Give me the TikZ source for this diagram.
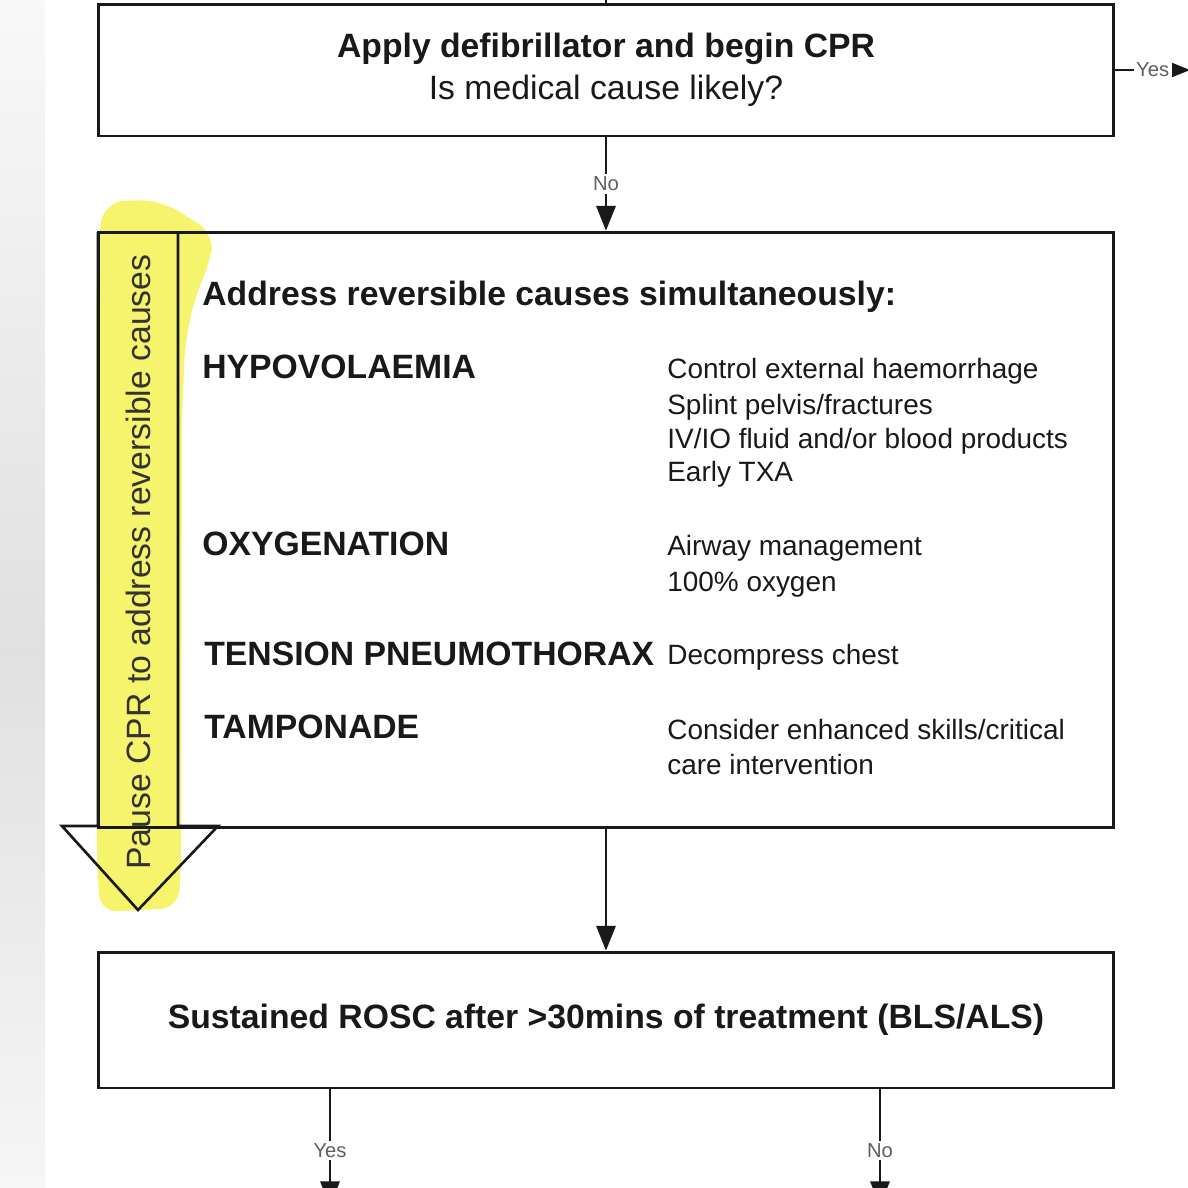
\documentclass[tikz,border=0pt]{standalone}
\usepackage{fontspec}
\setmainfont{Liberation Sans}
\usetikzlibrary{arrows.meta}
\definecolor{hilite}{RGB}{246,243,108}
\definecolor{ink}{RGB}{25,25,25}
\definecolor{lblgray}{RGB}{95,95,95}
\newcommand\fBig{\fontsize{19.2}{23.8}\selectfont}
\newcommand\fMed{\fontsize{15.9}{19}\selectfont}
\newcommand\fLbl{\fontsize{11.5}{13}\selectfont}
\tikzset{
  boxnode/.style={draw=ink, line width=1.7pt, minimum width=20.32cm, inner sep=0pt},
  conn/.style={draw=ink, line width=1.1pt, -{Triangle[length=14pt,width=11pt]}},
  lbl/.style={fill=white, inner sep=1.5pt, text=lblgray, font=\fLbl},
  headtxt/.style={anchor=base west, inner sep=0pt, font=\fBig\bfseries, text=ink},
  acttxt/.style={anchor=base west, inner sep=0pt, font=\fMed, text=ink},
}
\begin{document}
\begin{tikzpicture}[x=0.02cm, y=-0.02cm]
\useasboundingbox (0,0) rectangle (1188,1188);
\clip (0,0) rectangle (1188,1188);
% background strip (photo edge)
\shade[top color=gray!5, bottom color=gray!24] (0,0) rectangle (45,650);
\shade[top color=gray!24, bottom color=gray!7] (0,650) rectangle (45,1188);
% highlighter stroke
\fill[hilite, rounded corners=10pt] (104,204) -- (134,199) -- (166,203) -- (214,234) -- (210,262) -- (194,300) -- (185,345) -- (182,420) -- (181,870) -- (178,908) -- (100,912) -- (97,860) -- (96,300) -- (99,235) -- cycle;
% boxes
\node[boxnode, minimum height=2.64cm, align=center, font=\fBig, text=ink] (b1) at (606,70)
  {\bfseries Apply defibrillator and begin CPR\\ Is medical cause likely?};
\node[boxnode, minimum height=11.92cm] (b2) at (606,530) {};
\node[boxnode, minimum height=2.72cm, font=\fBig\bfseries, text=ink] (b3) at (606,1020)
  {Sustained ROSC after >30mins of treatment (BLS/ALS)};
% pause CPR arrow
\draw[ink, line width=1.5pt, line join=miter] (98,232) -- (98,826) -- (62,826) -- (138,910) -- (218,826) -- (178,826) -- (178,232);
\node[rotate=90, inner sep=0pt, font=\fBig, text=black!80] (pause) at (138,562) {Pause CPR to address reversible causes};
% texts in box 2
\node[headtxt] (t0) at (202,305) {Address reversible causes simultaneously:};
\node[headtxt] (h1) at (202,378) {HYPOVOLAEMIA};
\node[headtxt] (h2) at (202,555) {OXYGENATION};
\node[headtxt] (h3) at (204,665) {TENSION PNEUMOTHORAX};
\node[headtxt] (h4) at (204,738) {TAMPONADE};
\node[acttxt] (a1) at (667,378) {Control external haemorrhage};
\node[acttxt] (a2) at (667,414) {Splint pelvis/fractures};
\node[acttxt] (a3) at (667,448) {IV/IO fluid and/or blood products};
\node[acttxt] (a4) at (667,481) {Early TXA};
\node[acttxt] (a5) at (667,555) {Airway management};
\node[acttxt] (a6) at (667,591) {100\% oxygen};
\node[acttxt] (a7) at (667,664) {Decompress chest};
\node[acttxt] (a8) at (667,739) {Consider enhanced skills/critical};
\node[acttxt] (a9) at (667,774) {care intervention};
% connectors
\coordinate (intop) at (606,-10);
\draw[draw=ink, line width=1.1pt] (intop) -- (b1.north);
\coordinate (yesend) at (1190,70);
\draw[conn] (b1.east) -- node[lbl] (lyes) {Yes} (yesend);
\draw[conn] (b1.south) -- node[lbl] (lno) {No} (b2.north);
\draw[conn] (b2.south) -- (b3.north);
\coordinate (y0) at (330,1088);
\coordinate (y1) at (330,1206);
\coordinate (n0) at (880,1088);
\coordinate (n1) at (880,1206);
\draw[conn] (y0) -- node[lbl, pos=0.53] (lyes2) {Yes} (y1);
\draw[conn] (n0) -- node[lbl, pos=0.53] (lno2) {No} (n1);
\end{tikzpicture}
\end{document}
